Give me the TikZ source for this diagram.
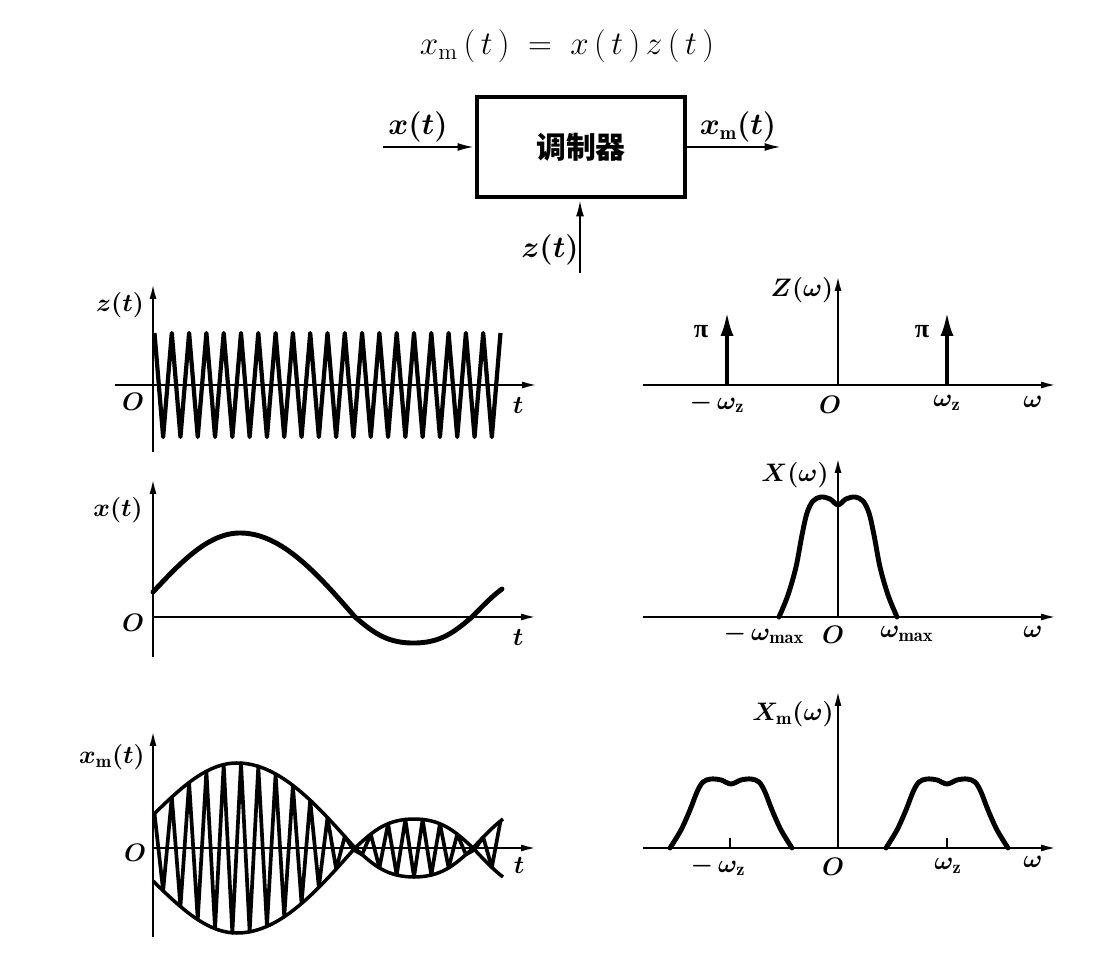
\documentclass[tikz,border=0pt]{standalone}
\usepackage{graphicx}
\usepackage{fontspec}
\newfontfamily\cjk{Noto Sans CJK SC}
\newfontfamily\lser{Liberation Serif}
\usetikzlibrary{arrows.meta}
\begin{document}
\begin{tikzpicture}[x=0.02cm,y=-0.02cm,
  declare function={
    ef(\t)=(\t<237)?(33+52*sin(1.0714*(\t-153))):((\t<355)?(85*cos(0.7627*(\t-237))):((\t<473)?(-30.5*(sin(1.5254*(\t-355))+0.05*sin(4.5763*(\t-355)))):(41*sin(1.5*(\t-473)))));
    xf(\t)=(\t<240)?(25+59*sin(1.0345*(\t-153))):((\t<355)?(84*cos(0.7826*(\t-240))):((\t<472)?(-27.4*(sin(1.5385*(\t-355))+0.05*sin(4.6154*(\t-355)))):(39.6*sin(1.5*(\t-472)))));
  },
  axis/.style={line width=1.4pt,-{Latex[length=3.2mm,width=1.4mm]}},
  plainax/.style={line width=1.4pt},
  curve/.style={line width=2.8pt,line join=round,line cap=round},
  zz/.style={line width=2.4pt,line join=round},
  env/.style={line width=2pt,line join=round},
  imp/.style={line width=2.5pt,-{Latex[length=5mm,width=2.6mm]}},
  sig/.style={line width=1.5pt,-{Latex[length=3.5mm,width=1.6mm]}},
  lbl/.style={inner sep=0pt,font=\boldmath\fontsize{15}{17}\selectfont},
  blbl/.style={inner sep=0pt,font=\boldmath\fontsize{16}{18}\selectfont},
  modbox/.style={draw,line width=2.3pt,minimum width=4.16cm,minimum height=2cm,inner sep=0pt,font=\cjk\bfseries\fontsize{17}{19}\selectfont}
]
\useasboundingbox (0,0) rectangle (1120,972);
\fill[white] (0,0) rectangle (1120,972);

% ---------- equation and block ----------
\node[inner sep=0pt,font=\fontsize{17.28}{21}\selectfont] (eq) at (567,46)
  {\scalebox{1.09}{$x_{\mathrm{m}}\,(\,t\,)\;=\;x\,(\,t\,)\,z\,(\,t\,)$}};
\node[modbox] (mod) at (581,147) {调制器};
\coordinate (xin) at (383,147);
\coordinate (xout) at (782,147);
\coordinate (zin) at (580,273);
\draw[sig] (xin) -- (mod.west);
\draw[sig] (mod.east) -- (xout);
\draw[sig] (zin) -- (mod.south -| zin);
\node[blbl] (lxin) at (418,127) {$x(t)$};
\node[blbl] (lxout) at (738,127) {$x_{\mathrm{m}}(t)$};
\node[blbl] (lzin) at (550,250) {$z(t)$};

% ---------- z(t) ----------
\coordinate (zL) at (115,385); \coordinate (zR) at (538,385);
\coordinate (zB) at (153,452); \coordinate (zT) at (153,283);
\draw[axis] (zL) -- (zR);
\draw[axis] (zB) -- (zT);
\draw[zz] plot[samples at={0,...,40},variable=\i] ({154.5+8.65*\i},{385-cos(180*\i)*52});
\node[lbl] (lz) at (120,305) {$z(t)$};
\node[lbl] (lzO) at (133,402) {$O$};
\node[lbl] (lzt) at (518,405) {$t$};

% ---------- x(t) ----------
\coordinate (xL) at (153,617); \coordinate (xR) at (537,617);
\coordinate (xB) at (153,657); \coordinate (xT) at (153,478);
\draw[axis] (xL) -- (xR);
\draw[axis] (xB) -- (xT);
\draw[curve] plot[domain=153:502,samples=160] (\x,{617-xf(\x)});
\node[lbl] (lx) at (118,510) {$x(t)$};
\node[lbl] (lxO) at (133,623) {$O$};
\node[lbl] (lxt) at (518,637) {$t$};

% ---------- x_m(t) ----------
\coordinate (mL) at (153,848); \coordinate (mR) at (537,848);
\coordinate (mB) at (153,937); \coordinate (mT) at (153,730);
\draw[axis] (mL) -- (mR);
\draw[axis] (mB) -- (mT);
\draw[env] plot[domain=153:503,samples=160] (\x,{848-ef(\x)});
\draw[env] plot[domain=153:503,samples=160] (\x,{848+ef(\x)});
\draw[zz,line width=2.1pt] plot[samples at={0,...,40},variable=\i] ({154.5+8.65*\i},{848-cos(180*\i)*ef(154.5+8.65*\i)});
\node[lbl] (lm) at (112,757) {$x_{\mathrm{m}}(t)$};
\node[lbl] (lmO) at (135,853) {$O$};
\node[lbl] (lmt) at (519,865) {$t$};

% ---------- Z(omega) ----------
\coordinate (ZL) at (643,385); \coordinate (ZR) at (1057,385);
\coordinate (ZB) at (838,385); \coordinate (ZT) at (838,275);
\draw[axis] (ZL) -- (ZR);
\draw[axis] (ZB) -- (ZT);
\coordinate (i1b) at (727,385); \coordinate (i1t) at (727,311);
\coordinate (i2b) at (947,385); \coordinate (i2t) at (947,311);
\draw[imp] (i1b) -- (i1t);
\draw[imp] (i2b) -- (i2t);
\node[lbl] (lZ) at (802,290) {$Z(\omega)$};
\node[lbl,font=\lser\bfseries\fontsize{15}{17}\selectfont] (lpi1) at (701,332) {π};
\node[lbl,font=\lser\bfseries\fontsize{15}{17}\selectfont] (lpi2) at (922,332) {π};
\node[lbl] (lZw1) at (717,403) {$-\,\omega_{\mathrm{z}}$};
\node[lbl] (lZO) at (830,405) {$O$};
\node[lbl] (lZw2) at (947,403) {$\omega_{\mathrm{z}}$};
\node[lbl] (lZw) at (1033,402) {$\omega$};

% ---------- X(omega) ----------
\coordinate (XL) at (643,617); \coordinate (XR) at (1057,617);
\coordinate (XB) at (838,617); \coordinate (XT) at (838,457);
\draw[axis] (XL) -- (XR);
\draw[axis] (XB) -- (XT);
\begin{scope}[shift={(838,617)}]
\draw[curve] plot[smooth,tension=0.55] coordinates {(-59,0) (-50,-22) (-42,-50) (-36,-82) (-31,-104) (-25,-116) (-17,-120) (-8,-118) (0,-112) (8,-118) (17,-120) (25,-116) (31,-104) (36,-82) (42,-50) (50,-22) (59,0)};
\end{scope}
\node[lbl] (lX) at (795,475) {$X(\omega)$};
\node[lbl] (lXw1) at (764,634) {$-\,\omega_{\max}$};
\node[lbl] (lXO) at (833,635) {$O$};
\node[lbl] (lXw2) at (907,634) {$\omega_{\max}$};
\node[lbl] (lXw) at (1033,632) {$\omega$};

% ---------- X_m(omega) ----------
\coordinate (QL) at (643,848); \coordinate (QR) at (1057,848);
\coordinate (QB) at (838,848); \coordinate (QT) at (838,690);
\draw[axis] (QL) -- (QR);
\draw[axis] (QB) -- (QT);
\foreach \c in {731,947}{
\begin{scope}[shift={(\c,848)}]
\draw[curve] plot[smooth,tension=0.55] coordinates {(-61,0) (-50,-18) (-41,-38) (-34,-56) (-28,-66) (-20,-69) (-10,-68) (0,-64) (10,-68) (20,-69) (28,-66) (34,-56) (41,-38) (50,-18) (61,0)};
\end{scope}}
\coordinate (t1b) at (730,848); \coordinate (t1t) at (730,838);
\coordinate (t2b) at (947,848); \coordinate (t2t) at (947,838);
\draw[plainax] (t1b) -- (t1t);
\draw[plainax] (t2b) -- (t2t);
\node[lbl] (lQ) at (793,714) {$X_{\mathrm{m}}(\omega)$};
\node[lbl] (lQw1) at (718,866) {$-\,\omega_{\mathrm{z}}$};
\node[lbl] (lQO) at (833,867) {$O$};
\node[lbl] (lQw2) at (948,866) {$\omega_{\mathrm{z}}$};
\node[lbl] (lQw) at (1033,862) {$\omega$};
\end{tikzpicture}
\end{document}
